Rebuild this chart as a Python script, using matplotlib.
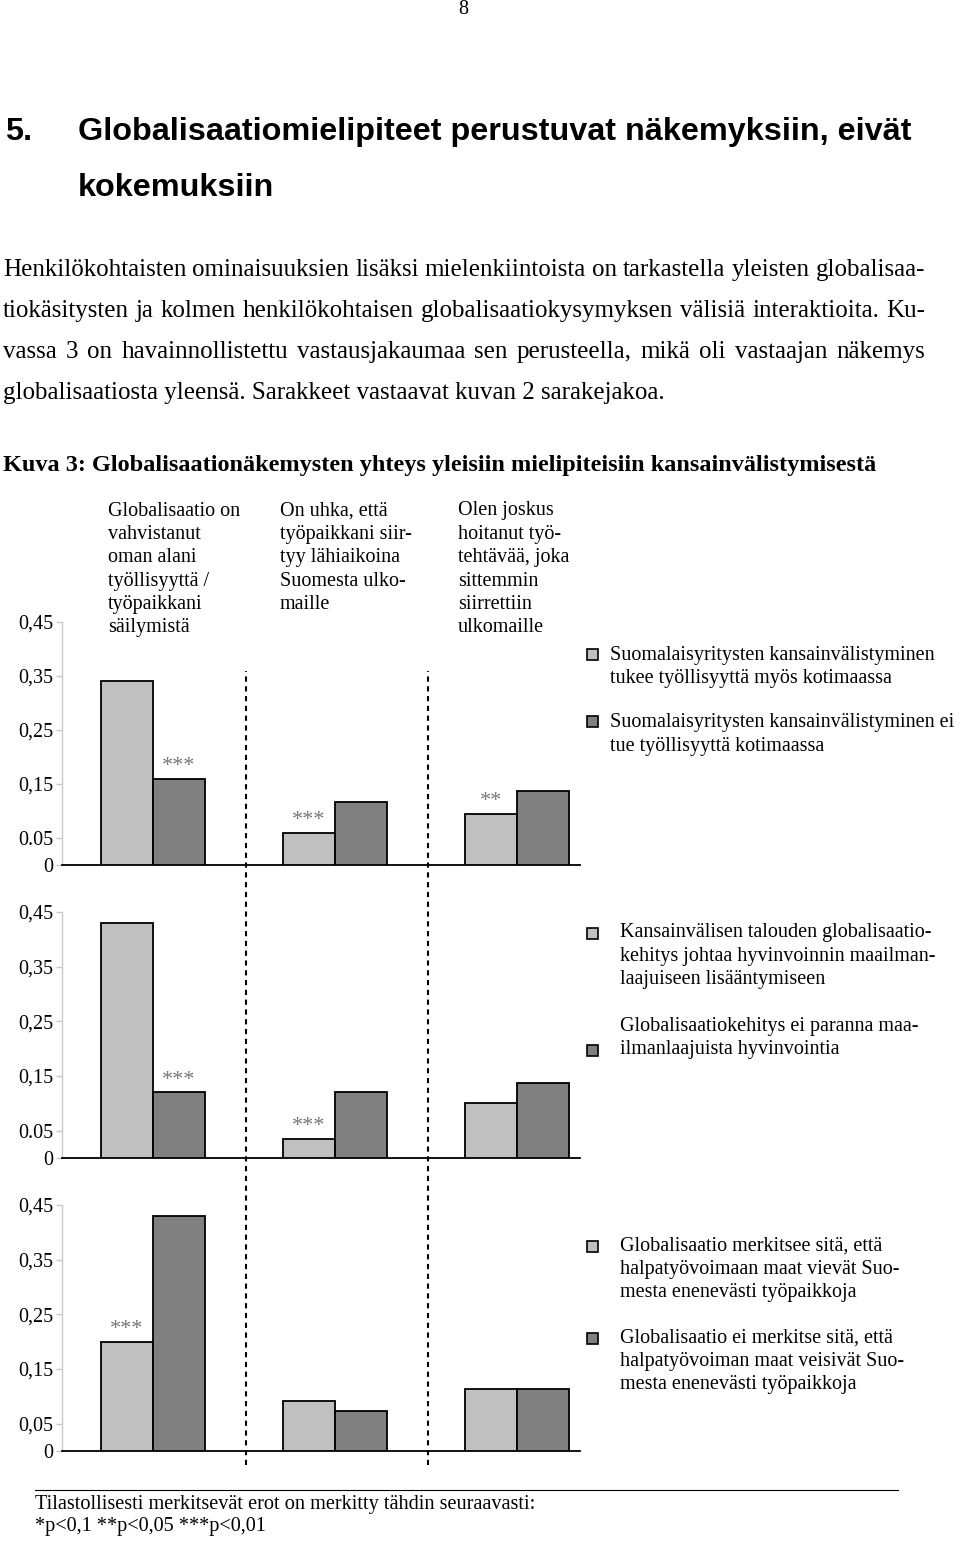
import matplotlib
matplotlib.use("Agg")
import matplotlib.pyplot as plt
from matplotlib.patches import Rectangle
from matplotlib.lines import Line2D

W, H = 960, 1541

# ---- data ----
page_no = "8"
heading = ["Globalisaatiomielipiteet perustuvat näkemyksiin, eivät", "kokemuksiin"]
paragraph = [
    "Henkilökohtaisten ominaisuuksien lisäksi mielenkiintoista on tarkastella yleisten globalisaa-",
    "tiokäsitysten ja kolmen henkilökohtaisen globalisaatiokysymyksen välisiä interaktioita. Ku-",
    "vassa 3 on havainnollistettu vastausjakaumaa sen perusteella, mikä oli vastaajan näkemys",
    "globalisaatiosta yleensä. Sarakkeet vastaavat kuvan 2 sarakejakoa.",
]
caption = "Kuva 3: Globalisaationäkemysten yhteys yleisiin mielipiteisiin kansainvälistymisestä"
columns = [
    ["Globalisaatio on", "vahvistanut", "oman alani", "työllisyyttä /", "työpaikkani", "säilymistä"],
    ["On uhka, että", "työpaikkani siir-", "tyy lähiaikoina", "Suomesta ulko-", "maille"],
    ["Olen joskus", "hoitanut työ-", "tehtävää, joka", "sittemmin", "siirrettiin", "ulkomaille"],
]
tick_vals = [0, 0.05, 0.15, 0.25, 0.35, 0.45]
tick_labels = [
    ["0", "0.05", "0,15", "0,25", "0,35", "0,45"],
    ["0", "0.05", "0,15", "0,25", "0,35", "0,45"],
    ["0", "0,05", "0,15", "0,25", "0,35", "0,45"],
]
light = [[0.34, 0.06, 0.094], [0.43, 0.035, 0.10], [0.20, 0.091, 0.113]]
dark = [[0.16, 0.117, 0.137], [0.12, 0.12, 0.137], [0.43, 0.073, 0.113]]
light_stars = [["", "***", "**"], ["", "***", ""], ["***", "", ""]]
dark_stars = [["***", "", ""], ["***", "", ""], ["", "", ""]]
legend_light = [
    ["Suomalaisyritysten kansainvälistyminen", "tukee työllisyyttä myös kotimaassa"],
    ["Kansainvälisen talouden globalisaatio-", "kehitys johtaa hyvinvoinnin maailman-",
     "laajuiseen lisääntymiseen"],
    ["Globalisaatio merkitsee sitä, että", "halpatyövoimaan maat vievät Suo-",
     "mesta enenevästi työpaikkoja"],
]
legend_dark = [
    ["Suomalaisyritysten kansainvälistyminen ei", "tue työllisyyttä kotimaassa"],
    ["Globalisaatiokehitys ei paranna maa-", "ilmanlaajuista hyvinvointia"],
    ["Globalisaatio ei merkitse sitä, että", "halpatyövoiman maat veisivät Suo-",
     "mesta enenevästi työpaikkoja"],
]
footnote = ["Tilastollisesti merkitsevät erot on merkitty tähdin seuraavasti:",
            "*p<0,1 **p<0,05 ***p<0,01"]

LIGHT, DARK = "#c0c0c0", "#808080"
SERIF, SANS = "Liberation Serif", "Liberation Sans"

fig = plt.figure(figsize=(W / 100, H / 100), dpi=100)
r = fig.canvas.get_renderer()


def put(x, y, s, **kw):
    kw.setdefault("va", "center")
    kw.setdefault("family", SERIF)
    return fig.text(x / W, 1 - y / H, s, **kw)


def fit(x, y, s, width, size, **kw):
    t = put(x, y, s, fontsize=size, **kw)
    w = t.get_window_extent(renderer=r).width
    t.set_fontsize(size * width / w)
    return t.get_fontsize()


def justify(x0, x1, y, s, size, **kw):
    words = s.split()
    ts = [put(0, y, wd, fontsize=size, **kw) for wd in words]
    ws = [t.get_window_extent(renderer=r).width for t in ts]
    gap = (x1 - x0 - sum(ws)) / (len(words) - 1)
    x = x0
    for t, w in zip(ts, ws):
        t.set_x(x / W)
        x += w + gap


# ---- page text ----
put(463, 10, page_no, fontsize=14.5, ha="center")
hs = fit(78, 132, heading[0], 834, 23, family=SANS, weight="bold")
put(5, 132, "5.", fontsize=hs, family=SANS, weight="bold")
put(78, 188, heading[1], fontsize=hs, family=SANS, weight="bold")

ps = fit(3, 393, paragraph[3], 665, 17.5)
for i, y in enumerate([270, 311, 352]):
    justify(3, 925, y, paragraph[i], ps)

fit(3, 466, caption, 877, 17, weight="bold")

# ---- column headers ----
LS = 23.4
for cx, lines in zip([108, 280, 458], columns):
    for j, s in enumerate(lines):
        put(cx, 511 + j * LS, s, fontsize=14.5)

# ---- panels ----
tops = [622, 912, 1205]
bots = [865, 1158, 1451]
x_left, x_right = 62, 580
xlim = (-0.5, 2.346)
bw = 0.2857
groups = range(3)

for p in range(3):
    ax = fig.add_axes([x_left / W, 1 - bots[p] / H, (x_right - x_left) / W,
                       (bots[p] - tops[p]) / H])
    ax.set_facecolor("none")
    ax.bar([g - bw / 2 for g in groups], light[p], bw, color=LIGHT,
           edgecolor="black", linewidth=1.3, zorder=3)
    ax.bar([g + bw / 2 for g in groups], dark[p], bw, color=DARK,
           edgecolor="black", linewidth=1.3, zorder=3)
    for g in groups:
        for off, vals, st in [(-bw / 2, light[p], light_stars[p]), (bw / 2, dark[p], dark_stars[p])]:
            if st[g]:
                ax.annotate(st[g], (g + off, vals[g]), xytext=(0, 2),
                            textcoords="offset points", ha="center", va="bottom",
                            color="#777777", fontsize=16, family=SERIF)
    ax.set_xlim(*xlim)
    ax.set_ylim(0, 0.45)
    ax.set_xticks([])
    ax.set_yticks(tick_vals)
    ax.set_yticklabels(tick_labels[p], family=SERIF, fontsize=14.5)
    ax.tick_params(axis="y", length=4, width=1, color="#c8c8c8", pad=2)
    for sp in ["top", "right"]:
        ax.spines[sp].set_visible(False)
    ax.spines["left"].set_color("#c8c8c8")
    ax.spines["left"].set_linewidth(1)
    ax.spines["bottom"].set_color("black")
    ax.spines["bottom"].set_linewidth(1.3)

# dashed dividers between question groups
axd = fig.add_axes([x_left / W, 1 - 1465 / H, (x_right - x_left) / W, (1465 - 671) / H])
axd.set_xlim(*xlim)
axd.axis("off")
for g in [0.5, 1.5]:
    axd.axvline(g + 0.012, color="black", lw=1.5, ls=(0, (2.5, 2.2)))

# ---- legends ----
leg_pos = [  # (text x, light first line y, dark square y, dark first line y)
    (610, 655, 722, 723),
    (620, 933, 1050, 1026),
    (620, 1246, 1338, 1338),
]
for p in range(3):
    tx, ly, dsq, dy = leg_pos[p]
    for sq_y, col in [(ly, LIGHT), (dsq, DARK)]:
        fig.add_artist(Rectangle(((592 - 5.5) / W, 1 - (sq_y + 5.5) / H), 11 / W, 11 / H,
                                 facecolor=col, edgecolor="black", lw=1.2,
                                 transform=fig.transFigure))
    for j, s in enumerate(legend_light[p]):
        put(tx, ly + j * LS, s, fontsize=14.5)
    for j, s in enumerate(legend_dark[p]):
        put(tx, dy + j * LS, s, fontsize=14.5)

# ---- footnote ----
fig.add_artist(Line2D([35 / W, 898 / W], [1 - 1490 / H] * 2, color="black", lw=0.8))
fs = fit(35, 1504, footnote[0], 500, 14.5)
put(35, 1527, footnote[1], fontsize=fs)

fig.savefig("out.png", dpi=100)
